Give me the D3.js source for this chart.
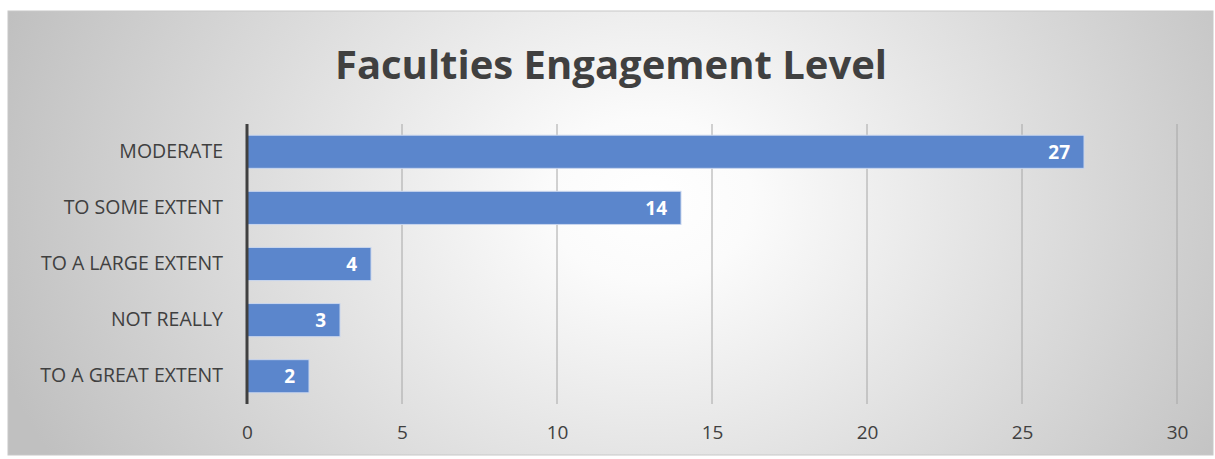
<!DOCTYPE html>
<html>
<head>
<meta charset="utf-8">
<script src="https://cdn.jsdelivr.net/npm/d3@7"></script>
<style>
  body { margin: 0; background: #fff; }
  svg { display: block; }
</style>
</head>
<body>
<div id="chart"></div>
<script>
// chart data
const categories = ["MODERATE", "TO SOME EXTENT", "TO A LARGE EXTENT", "NOT REALLY", "TO A GREAT EXTENT"];
const values = [27, 14, 4, 3, 2];
const xTicks = [0, 5, 10, 15, 20, 25, 30];
const title = "Faculties Engagement Level";

const width = 1215, height = 459;
const frame = { x: 8, y: 11, w: 1205, h: 444 };
const margin = { top: 124, right: 38, bottom: 55, left: 247 };
const font = "'Open Sans', sans-serif";

const svg = d3.select("#chart").append("svg")
  .attr("width", width)
  .attr("height", height);

// radial background like the office chart style
const defs = svg.append("defs");
const grad = defs.append("radialGradient")
  .attr("id", "bg")
  .attr("gradientUnits", "userSpaceOnUse")
  .attr("cx", 650).attr("cy", 200).attr("r", 680)
  .attr("gradientTransform", "translate(650,200) scale(1,0.8) translate(-650,-200)");
grad.append("stop").attr("offset", "0%").attr("stop-color", "#ffffff");
grad.append("stop").attr("offset", "15%").attr("stop-color", "#fbfbfb");
grad.append("stop").attr("offset", "100%").attr("stop-color", "#c0c0c0");

svg.append("rect")
  .attr("x", frame.x).attr("y", frame.y)
  .attr("width", frame.w).attr("height", frame.h)
  .attr("fill", "url(#bg)")
  .attr("stroke", "#c8c8c8")
  .attr("stroke-width", 1);

const x = d3.scaleLinear()
  .domain([0, 30])
  .range([margin.left, width - margin.right]);

const y = d3.scaleBand()
  .domain(categories)
  .range([margin.top, height - margin.bottom])
  .paddingInner(0.41)
  .paddingOuter(0.2);

// gridlines
svg.append("g")
  .selectAll("line")
  .data(xTicks.filter(d => d > 0))
  .join("line")
  .attr("x1", d => x(d)).attr("x2", d => x(d))
  .attr("y1", margin.top).attr("y2", height - margin.bottom)
  .attr("stroke", "#a6a6a6")
  .attr("stroke-width", 1);

// x axis labels
const xAxis = svg.append("g")
  .attr("transform", `translate(0,${height - margin.bottom})`)
  .call(d3.axisBottom(x).tickValues(xTicks).tickSize(0).tickPadding(22));
xAxis.select(".domain").remove();
xAxis.selectAll("text")
  .attr("fill", "#404040")
  .style("font-family", font)
  .style("font-size", "19px");

// y axis labels
const yAxis = svg.append("g")
  .attr("transform", `translate(${margin.left},0)`)
  .call(d3.axisLeft(y).tickSize(0).tickPadding(24));
yAxis.select(".domain").remove();
yAxis.selectAll("text")
  .attr("fill", "#404040")
  .style("font-family", font)
  .style("font-size", "19.5px");

// bars
svg.append("g")
  .selectAll("rect")
  .data(values)
  .join("rect")
  .attr("x", x(0))
  .attr("y", (d, i) => y(categories[i]))
  .attr("width", d => x(d) - x(0))
  .attr("height", y.bandwidth())
  .attr("fill", "#5b86cc")
  .attr("stroke", "#c9d6ee")
  .attr("stroke-width", 1);

// data labels
svg.append("g")
  .selectAll("text")
  .data(values)
  .join("text")
  .attr("x", d => x(d) - 14)
  .attr("y", (d, i) => y(categories[i]) + y.bandwidth() / 2)
  .attr("dy", "0.36em")
  .attr("text-anchor", "end")
  .attr("fill", "#ffffff")
  .style("font-family", font)
  .style("font-weight", "bold")
  .style("font-size", "19px")
  .text(d => d);

// zero axis line
svg.append("line")
  .attr("x1", x(0)).attr("x2", x(0))
  .attr("y1", margin.top).attr("y2", height - margin.bottom)
  .attr("stroke", "#404040")
  .attr("stroke-width", 3);

// title
svg.append("text")
  .attr("x", 611)
  .attr("y", 79)
  .attr("text-anchor", "middle")
  .attr("fill", "#404040")
  .style("font-family", font)
  .style("font-weight", "bold")
  .style("font-size", "40px")
  .text(title);
</script>
</body>
</html>
